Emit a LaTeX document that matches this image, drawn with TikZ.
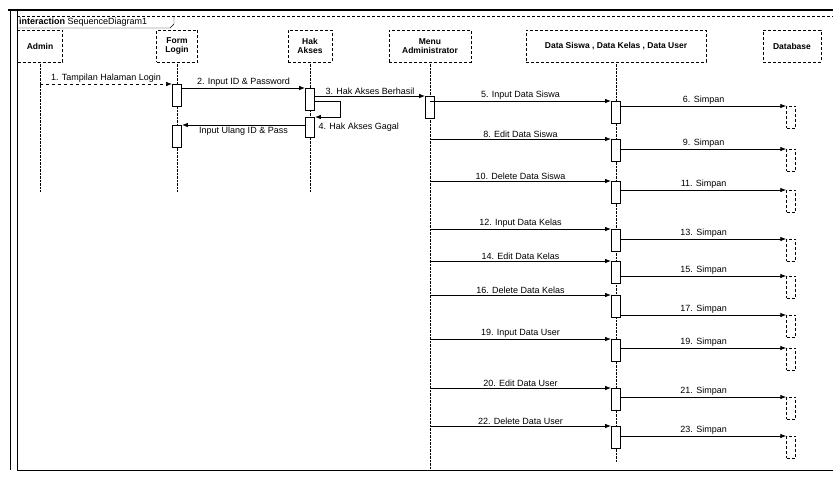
\documentclass[tikz,border=0pt]{standalone}
\usepackage{fontspec}
\setmainfont{Liberation Sans}
\usetikzlibrary{arrows.meta,positioning}

\begin{document}
\begin{tikzpicture}[x=1pt,y=-1pt,
  head/.style={draw,densely dashed,align=center,minimum height=32pt,inner sep=2pt,font=\fontsize{8.5}{9}\selectfont\bfseries},
  act/.style={draw,thick,fill=white,minimum width=9pt,minimum height=22pt,inner sep=0pt,anchor=north},
  dbact/.style={act,thin,densely dashed},
  life/.style={densely dotted},
  msg/.style={-{Latex[length=6pt,width=4.5pt]},thick},
  lbl/.style={above,inner sep=1.5pt,font=\fontsize{9}{9.5}\selectfont}
]
  \useasboundingbox[fill=white] (0,0) rectangle (833,477);
  % frame
  \draw[line width=1.6pt] (8,10) -- (833,10);
  \draw[line width=1pt] (10,10) -- (10,470);
  \draw (17,10) -- (17,470) -- (833,470);
  \draw[densely dashed] (17,16) -- (833,16);
  \draw (17,28) -- (170,28) -- (174,24) -- (174,16);
  \node[anchor=west,inner sep=1pt,font=\fontsize{9}{9.5}\selectfont] (frame) at (18,22) {\textbf{interaction} SequenceDiagram1};

  % lifelines
  \node[head,minimum width=45pt] (admin) at (40,46) {Admin};
  \node[head,minimum width=41pt] (login) at (177,46) {Form\\Login};
  \node[head,minimum width=44pt] (akses) at (310,46) {Hak\\Akses};
  \node[head,minimum width=82pt] (menu) at (430,46) {Menu\\Administrator};
  \node[head,minimum width=180pt] (data) at (616,46) {Data Siswa , Data Kelas , Data User};
  \node[head,minimum width=58pt] (db) at (792,46) {Database};
  \coordinate (endA) at (0,192);
  \coordinate (endB) at (0,470);
  \coordinate (endC) at (0,462);
  \draw[life] (admin) -- (admin |- endA);
  \draw[life] (login) -- (login |- endA);
  \draw[life] (akses) -- (akses |- endA);
  \draw[life] (menu) -- (menu |- endB);
  \draw[life] (data) -- (data |- endC);

  % login
  \node[act] (l1) at (177,84) {};
  \node[act] (a1) at (310,88) {};
  \node[act] (m1) at (430,96) {};
  \node[act,minimum height=20pt] (a2) at (310,117) {};
  \node[act] (l2) at (177,125) {};
  \coordinate (self4) at (340,101);
  \draw[msg,dashed] (admin |- l1.north) -- node[lbl]{1. Tampilan Halaman Login} (l1.north west);
  \draw[msg] (l1.east |- a1.north) -- node[lbl]{2. Input ID \& Password} (a1.north west);
  \draw[msg] (a1.east |- m1.north) -- node[lbl]{3. Hak Akses Berhasil} (m1.north west);
  \draw[msg] (a1.east |- self4) -- (self4) |- (a2.north east);
  \node[lbl,anchor=west] (m4) at ([xshift=2pt]a2.east) {4. Hak Akses Gagal};
  \draw[msg] (a2.west |- l2.north) -- node[lbl,below]{Input Ulang ID \& Pass} (l2.north west -| l2.east);

  % data siswa
  \node[act] (d5) at (616,101) {};
  \node[dbact] (b6) at (791,106) {};
  \draw[msg] (menu |- d5.north) -- node[lbl]{5. Input Data Siswa} (d5.north west);
  \draw[msg] (d5.east |- b6.north) -- node[lbl]{6. Simpan} (b6.north west);
  \node[act] (d8) at (616,139) {};
  \node[dbact] (b9) at (791,149) {};
  \draw[msg] (menu |- d8.north) -- node[lbl]{8. Edit Data Siswa} (d8.north west);
  \draw[msg] (d8.east |- b9.north) -- node[lbl]{9. Simpan} (b9.north west);
  \node[act] (d10) at (616,181) {};
  \node[dbact] (b11) at (791,190) {};
  \draw[msg] (menu |- d10.north) -- node[lbl]{10. Delete Data Siswa} (d10.north west);
  \draw[msg] (d10.east |- b11.north) -- node[lbl]{11. Simpan} (b11.north west);

  % data kelas
  \node[act] (d12) at (616,229) {};
  \node[dbact] (b13) at (791,239) {};
  \draw[msg] (menu |- d12.north) -- node[lbl]{12. Input Data Kelas} (d12.north west);
  \draw[msg] (d12.east |- b13.north) -- node[lbl]{13. Simpan} (b13.north west);
  \node[act] (d14) at (616,261) {};
  \node[dbact] (b15) at (791,276) {};
  \draw[msg] (menu |- d14.north) -- node[lbl]{14. Edit Data Kelas} (d14.north west);
  \draw[msg] (d14.east |- b15.north) -- node[lbl]{15. Simpan} (b15.north west);
  \node[act] (d16) at (616,295) {};
  \node[dbact] (b17) at (791,315) {};
  \draw[msg] (menu |- d16.north) -- node[lbl]{16. Delete Data Kelas} (d16.north west);
  \draw[msg] (d16.east |- b17.north) -- node[lbl]{17. Simpan} (b17.north west);

  % data user
  \node[act] (d19) at (616,339) {};
  \node[dbact] (b19) at (791,348) {};
  \draw[msg] (menu |- d19.north) -- node[lbl]{19. Input Data User} (d19.north west);
  \draw[msg] (d19.east |- b19.north) -- node[lbl]{19. Simpan} (b19.north west);
  \node[act] (d20) at (616,388) {};
  \node[dbact] (b21) at (791,397) {};
  \draw[msg] (menu |- d20.north) -- node[lbl]{20. Edit Data User} (d20.north west);
  \draw[msg] (d20.east |- b21.north) -- node[lbl]{21. Simpan} (b21.north west);
  \node[act] (d22) at (616,426) {};
  \node[dbact] (b23) at (791,436) {};
  \draw[msg] (menu |- d22.north) -- node[lbl]{22. Delete Data User} (d22.north west);
  \draw[msg] (d22.east |- b23.north) -- node[lbl]{23. Simpan} (b23.north west);
\end{tikzpicture}
\end{document}
